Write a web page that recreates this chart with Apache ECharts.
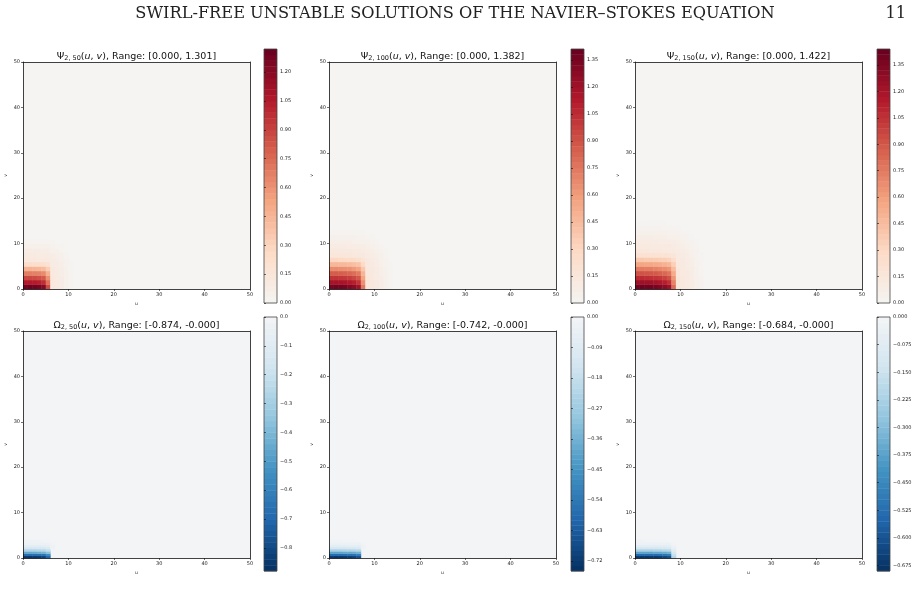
<!DOCTYPE html>
<html>
<head>
<meta charset="utf-8">
<script src="https://cdn.jsdelivr.net/npm/echarts@6/dist/echarts.min.js"></script>
<style>
  html, body { margin: 0; padding: 0; background: #fff; }
  #main { width: 920px; height: 606px; }
</style>
</head>
<body>
<div id="main"></div>
<script>
var pageTitle = 'SWIRL-FREE UNSTABLE SOLUTIONS OF THE NAVIER\u2013STOKES EQUATION';
var pageNumber = '11';

// stream function Psi_{2,n}: rows go up from v=0, one cell per unit of u and v
var psi50 = [
  [1.28, 1.30, 1.29, 1.27, 1.22, 0.86, 0.13, 0.11, 0.08, 0.05, 0.02],
  [1.06, 1.06, 1.05, 1.03, 0.98, 0.72, 0.13, 0.11, 0.08, 0.05, 0.02],
  [0.88, 0.88, 0.87, 0.85, 0.81, 0.60, 0.13, 0.10, 0.08, 0.05, 0.02],
  [0.68, 0.68, 0.67, 0.66, 0.63, 0.47, 0.12, 0.10, 0.07, 0.04, 0.02],
  [0.46, 0.46, 0.45, 0.44, 0.42, 0.33, 0.11, 0.09, 0.07, 0.04, 0.01],
  [0.24, 0.24, 0.23, 0.23, 0.22, 0.18, 0.10, 0.08, 0.06, 0.03, 0.01],
  [0.13, 0.13, 0.13, 0.12, 0.12, 0.11, 0.09, 0.07, 0.05, 0.03],
  [0.11, 0.11, 0.11, 0.10, 0.10, 0.09, 0.07, 0.06, 0.04, 0.02],
  [0.08, 0.08, 0.08, 0.08, 0.07, 0.07, 0.05, 0.04, 0.02],
  [0.05, 0.05, 0.05, 0.05, 0.05, 0.04, 0.03, 0.02, 0.01],
  [0.02, 0.02, 0.02, 0.02, 0.02, 0.02, 0.01]
];
var psi100 = [
  [1.36, 1.38, 1.37, 1.35, 1.32, 1.28, 1.20, 0.75, 0.15, 0.13, 0.11, 0.08, 0.05, 0.02],
  [1.18, 1.18, 1.17, 1.16, 1.13, 1.10, 1.02, 0.65, 0.15, 0.13, 0.11, 0.08, 0.05, 0.02],
  [1.02, 1.02, 1.01, 1.00, 0.98, 0.94, 0.88, 0.56, 0.15, 0.13, 0.10, 0.08, 0.05, 0.02],
  [0.86, 0.86, 0.85, 0.84, 0.82, 0.79, 0.74, 0.48, 0.14, 0.12, 0.10, 0.07, 0.04, 0.01],
  [0.67, 0.67, 0.66, 0.65, 0.64, 0.61, 0.57, 0.38, 0.14, 0.12, 0.10, 0.07, 0.04, 0.01],
  [0.47, 0.47, 0.46, 0.46, 0.45, 0.43, 0.40, 0.28, 0.13, 0.11, 0.09, 0.06, 0.03, 0.01],
  [0.29, 0.29, 0.28, 0.28, 0.27, 0.26, 0.24, 0.18, 0.12, 0.10, 0.08, 0.06, 0.03],
  [0.16, 0.16, 0.16, 0.15, 0.15, 0.14, 0.13, 0.12, 0.10, 0.09, 0.07, 0.05, 0.02],
  [0.13, 0.13, 0.12, 0.12, 0.12, 0.11, 0.11, 0.10, 0.09, 0.07, 0.05, 0.03, 0.01],
  [0.10, 0.10, 0.10, 0.10, 0.09, 0.09, 0.08, 0.08, 0.07, 0.05, 0.03, 0.02],
  [0.07, 0.07, 0.07, 0.07, 0.07, 0.06, 0.06, 0.05, 0.04, 0.03, 0.02],
  [0.04, 0.04, 0.04, 0.04, 0.04, 0.04, 0.03, 0.03, 0.02, 0.01],
  [0.02, 0.02, 0.02, 0.02, 0.02, 0.01, 0.01, 0.01]
];
var psi150 = [
  [1.40, 1.42, 1.41, 1.40, 1.38, 1.35, 1.31, 1.24, 0.82, 0.16, 0.14, 0.12, 0.09, 0.06, 0.03],
  [1.24, 1.24, 1.23, 1.22, 1.20, 1.17, 1.13, 1.06, 0.72, 0.16, 0.14, 0.12, 0.09, 0.06, 0.03],
  [1.08, 1.08, 1.07, 1.06, 1.04, 1.02, 0.98, 0.92, 0.63, 0.16, 0.14, 0.11, 0.09, 0.06, 0.03],
  [0.92, 0.92, 0.91, 0.90, 0.89, 0.86, 0.83, 0.78, 0.54, 0.15, 0.13, 0.11, 0.08, 0.05, 0.02],
  [0.75, 0.75, 0.74, 0.74, 0.72, 0.70, 0.68, 0.64, 0.45, 0.15, 0.13, 0.10, 0.08, 0.05, 0.02],
  [0.57, 0.57, 0.56, 0.56, 0.55, 0.53, 0.51, 0.48, 0.35, 0.14, 0.12, 0.10, 0.07, 0.04, 0.02],
  [0.39, 0.39, 0.38, 0.38, 0.37, 0.36, 0.35, 0.33, 0.25, 0.13, 0.11, 0.09, 0.07, 0.04, 0.01],
  [0.22, 0.22, 0.22, 0.21, 0.21, 0.20, 0.20, 0.19, 0.16, 0.12, 0.10, 0.08, 0.06, 0.03, 0.01],
  [0.15, 0.15, 0.15, 0.14, 0.14, 0.14, 0.13, 0.13, 0.12, 0.10, 0.09, 0.07, 0.05, 0.03],
  [0.13, 0.13, 0.12, 0.12, 0.12, 0.12, 0.11, 0.11, 0.10, 0.09, 0.07, 0.06, 0.04, 0.02],
  [0.10, 0.10, 0.10, 0.10, 0.10, 0.09, 0.09, 0.09, 0.08, 0.07, 0.06, 0.04, 0.03, 0.01],
  [0.08, 0.08, 0.08, 0.08, 0.07, 0.07, 0.07, 0.06, 0.06, 0.05, 0.04, 0.03, 0.01],
  [0.05, 0.05, 0.05, 0.05, 0.05, 0.05, 0.05, 0.04, 0.04, 0.03, 0.02, 0.01],
  [0.03, 0.03, 0.03, 0.03, 0.03, 0.03, 0.02, 0.02, 0.02, 0.01],
  [0.01, 0.01, 0.01, 0.01, 0.01, 0.01, 0.01]
];

// vorticity Omega_{2,n}: one unit of u by half a unit of v
var omega50 = [
  [-0.86, -0.87, -0.86, -0.85, -0.82, -0.70],
  [-0.68, -0.68, -0.67, -0.66, -0.64, -0.55],
  [-0.46, -0.46, -0.45, -0.44, -0.42, -0.36],
  [-0.27, -0.27, -0.27, -0.26, -0.25, -0.21],
  [-0.15, -0.15, -0.15, -0.14, -0.14, -0.12, -0.02],
  [-0.08, -0.08, -0.08, -0.08, -0.07, -0.06, -0.02],
  [-0.04, -0.04, -0.04, -0.04, -0.04, -0.03, -0.01],
  [-0.02, -0.02, -0.02, -0.02, -0.01, -0.01]
];
var omega100 = [
  [-0.73, -0.74, -0.74, -0.73, -0.72, -0.70, -0.66],
  [-0.58, -0.58, -0.58, -0.57, -0.56, -0.55, -0.52],
  [-0.40, -0.40, -0.40, -0.39, -0.39, -0.38, -0.36],
  [-0.24, -0.24, -0.24, -0.23, -0.23, -0.22, -0.21],
  [-0.13, -0.13, -0.13, -0.13, -0.12, -0.12, -0.11, -0.02],
  [-0.07, -0.07, -0.07, -0.07, -0.06, -0.06, -0.06, -0.02],
  [-0.035, -0.035, -0.035, -0.03, -0.03, -0.03, -0.03, -0.01],
  [-0.015, -0.015, -0.015, -0.01, -0.01, -0.01]
];
var omega150 = [
  [-0.67, -0.68, -0.68, -0.67, -0.67, -0.66, -0.64, -0.61, -0.20],
  [-0.54, -0.54, -0.54, -0.53, -0.53, -0.52, -0.50, -0.48, -0.16],
  [-0.37, -0.37, -0.37, -0.37, -0.36, -0.36, -0.35, -0.33, -0.11],
  [-0.22, -0.22, -0.22, -0.22, -0.21, -0.21, -0.20, -0.19, -0.07],
  [-0.12, -0.12, -0.12, -0.12, -0.12, -0.11, -0.11, -0.10, -0.04],
  [-0.065, -0.065, -0.065, -0.06, -0.06, -0.06, -0.06, -0.055, -0.02],
  [-0.03, -0.03, -0.03, -0.03, -0.03, -0.03, -0.03, -0.025, -0.01],
  [-0.015, -0.015, -0.01, -0.01, -0.01, -0.01, -0.01]
];

// data range printed in each title
var psiRange50 = [0.000, 1.301];
var psiRange100 = [0.000, 1.382];
var psiRange150 = [0.000, 1.422];
var omegaRange50 = [-0.874, -0.0];
var omegaRange100 = [-0.742, -0.0];
var omegaRange150 = [-0.684, -0.0];

// contour levels of each colorbar: [lowest, highest, step]
var psiLevels50 = [0, 1.32, 0.03];
var psiLevels100 = [0, 1.41, 0.03];
var psiLevels150 = [0, 1.44, 0.03];
var omegaLevels50 = [-0.88, 0, 0.02];
var omegaLevels100 = [-0.75, 0, 0.015];
var omegaLevels150 = [-0.69, 0, 0.015];

// colorbar tick labels
var psiTicks50 = [0, 0.15, 0.30, 0.45, 0.60, 0.75, 0.90, 1.05, 1.20];
var psiTicks100 = [0, 0.15, 0.30, 0.45, 0.60, 0.75, 0.90, 1.05, 1.20, 1.35];
var psiTicks150 = [0, 0.15, 0.30, 0.45, 0.60, 0.75, 0.90, 1.05, 1.20, 1.35];
var omegaTicks50 = [0, -0.1, -0.2, -0.3, -0.4, -0.5, -0.6, -0.7, -0.8];
var omegaTicks100 = [0, -0.09, -0.18, -0.27, -0.36, -0.45, -0.54, -0.63, -0.72];
var omegaTicks150 = [0, -0.075, -0.150, -0.225, -0.300, -0.375, -0.450, -0.525, -0.600, -0.675];

var reds = ['#f5f4f2', '#fddbc7', '#f4a582', '#d6604d', '#b2182b', '#67001f'];
var blues = ['#053061', '#2166ac', '#4393c3', '#92c5de', '#d1e5f0', '#f3f4f6'];

var panels = [
  {sym: '\u03a8', n: '50', field: psi50, range: psiRange50, levels: psiLevels50, ticks: psiTicks50, digits: 2, dv: 1, colors: reds, bg: reds[0]},
  {sym: '\u03a8', n: '100', field: psi100, range: psiRange100, levels: psiLevels100, ticks: psiTicks100, digits: 2, dv: 1, colors: reds, bg: reds[0]},
  {sym: '\u03a8', n: '150', field: psi150, range: psiRange150, levels: psiLevels150, ticks: psiTicks150, digits: 2, dv: 1, colors: reds, bg: reds[0]},
  {sym: '\u03a9', n: '50', field: omega50, range: omegaRange50, levels: omegaLevels50, ticks: omegaTicks50, digits: 1, dv: 0.5, colors: blues, bg: blues[5]},
  {sym: '\u03a9', n: '100', field: omega100, range: omegaRange100, levels: omegaLevels100, ticks: omegaTicks100, digits: 2, dv: 0.5, colors: blues, bg: blues[5]},
  {sym: '\u03a9', n: '150', field: omega150, range: omegaRange150, levels: omegaLevels150, ticks: omegaTicks150, digits: 3, dv: 0.5, colors: blues, bg: blues[5]}
];

var colLeft = [23, 329, 635], rowTop = [62, 331];
var plotW = 227, plotH = 227;
var cbLeft = [264, 571, 877], cbTop = [49, 317];
var cbW = 13, cbH = 254;
var font = 'DejaVu Sans';

function fmt3(x) {
  var neg = x < 0 || Object.is(x, -0);
  return (neg ? '-' : '') + Math.abs(x).toFixed(3);
}

function cellRenderer(du, dv) {
  return function (params, api) {
    var u = api.value(0), v = api.value(1);
    var a = api.coord([u, v + dv]);
    var b = api.coord([u + du, v]);
    return {
      type: 'rect',
      shape: {x: a[0], y: a[1], width: b[0] - a[0] + 0.4, height: b[1] - a[1] + 0.4},
      style: {fill: api.visual('color')}
    };
  };
}

function bandRenderer(params, api) {
  var a = api.coord([0, api.value(3)]);
  var b = api.coord([1, api.value(1)]);
  return {
    type: 'rect',
    shape: {x: a[0], y: a[1], width: b[0] - a[0], height: b[1] - a[1] + 0.4},
    style: {fill: api.visual('color')}
  };
}

var lineStyle = {color: '#111', width: 0.8};
var grids = [], xAxes = [], yAxes = [], series = [], visualMaps = [], titles = [];

panels.forEach(function (p, i) {
  var col = i % 3, row = Math.floor(i / 3);

  // main plot
  var gi = grids.length;
  grids.push({left: colLeft[col], top: rowTop[row], width: plotW, height: plotH,
    show: true, backgroundColor: p.bg, borderWidth: 0});
  var xi = xAxes.length, yi = yAxes.length;
  xAxes.push({
    gridIndex: gi, type: 'value', min: 0, max: 50, interval: 10, position: 'bottom', z: 10,
    axisLine: {onZero: false, lineStyle: lineStyle},
    axisTick: {length: 2, lineStyle: {color: '#111', width: 0.6}},
    axisLabel: {fontSize: 5, color: '#222', margin: 3, fontFamily: font},
    splitLine: {show: false},
    name: 'u', nameLocation: 'middle', nameGap: 12,
    nameTextStyle: {fontSize: 4.5, color: '#222', fontFamily: font}
  });
  xAxes.push({
    gridIndex: gi, type: 'value', min: 0, max: 50, position: 'top', z: 10,
    axisLine: {onZero: false, lineStyle: lineStyle},
    axisTick: {show: false}, axisLabel: {show: false}, splitLine: {show: false}
  });
  yAxes.push({
    gridIndex: gi, type: 'value', min: 0, max: 50, interval: 10, position: 'left', z: 10,
    axisLine: {onZero: false, lineStyle: lineStyle},
    axisTick: {length: 2, lineStyle: {color: '#111', width: 0.6}},
    axisLabel: {fontSize: 5, color: '#222', margin: 3, fontFamily: font},
    splitLine: {show: false},
    name: 'v', nameLocation: 'middle', nameGap: 15,
    nameTextStyle: {fontSize: 4.5, color: '#222', fontFamily: font}
  });
  yAxes.push({
    gridIndex: gi, type: 'value', min: 0, max: 50, position: 'right', z: 10,
    axisLine: {onZero: false, lineStyle: lineStyle},
    axisTick: {show: false}, axisLabel: {show: false}, splitLine: {show: false}
  });

  var cells = [];
  p.field.forEach(function (vals, r) {
    vals.forEach(function (val, c) {
      cells.push([c, r * p.dv, val]);
    });
  });
  var si = series.length;
  series.push({
    type: 'custom', xAxisIndex: xi, yAxisIndex: yi, silent: true, animation: false,
    dimensions: ['u', 'v', 'val'], encode: {x: 0, y: 1},
    renderItem: cellRenderer(1, p.dv), data: cells
  });

  // colorbar, one band per contour level
  var lvLo = p.levels[0], lvHi = p.levels[1], step = p.levels[2];
  var cg = grids.length;
  grids.push({left: cbLeft[col], top: cbTop[row], width: cbW, height: cbH,
    show: true, backgroundColor: 'transparent', borderColor: '#444', borderWidth: 0.8, z: 10});
  var cx = xAxes.length, cy = yAxes.length;
  xAxes.push({gridIndex: cg, type: 'value', min: 0, max: 1, show: false});
  yAxes.push({
    gridIndex: cg, type: 'value', min: lvLo, max: lvHi, position: 'right', z: 10,
    axisLine: {show: false},
    axisTick: {show: true, length: 2, customValues: p.ticks, lineStyle: {color: '#111', width: 0.6}},
    axisLabel: {
      fontSize: 5, color: '#222', margin: 3, fontFamily: font, customValues: p.ticks,
      formatter: (function (d) {
        return function (v) {
          if (Math.abs(v) < 1e-9) return (0).toFixed(d);
          return (v < 0 ? '\u2212' : '') + Math.abs(v).toFixed(d);
        };
      })(p.digits)
    },
    splitLine: {show: false}
  });
  var bands = [];
  var nb = Math.round((lvHi - lvLo) / step);
  for (var k = 0; k < nb; k++) {
    var lo = lvLo + step * k, hi = lvLo + step * (k + 1);
    bands.push([0, lo, (lo + hi) / 2, hi]);
  }
  var bi = series.length;
  series.push({
    type: 'custom', xAxisIndex: cx, yAxisIndex: cy, silent: true, animation: false,
    dimensions: ['x', 'lo', 'val', 'hi'], encode: {x: 0, y: [1, 3]},
    renderItem: bandRenderer, data: bands
  });

  visualMaps.push({
    type: 'continuous', show: false, seriesIndex: [si, bi], dimension: 2,
    min: lvLo, max: lvHi, inRange: {color: p.colors}
  });

  titles.push({
    left: colLeft[col] + plotW / 2, top: rowTop[row] - 11, textAlign: 'center', padding: 0,
    text: '{t|' + p.sym + '}{s|2, ' + p.n + '}{t|(}{i|u}{t|, }{i|v}{t|), Range: [' +
      fmt3(p.range[0]) + ', ' + fmt3(p.range[1]) + ']}',
    textStyle: {
      fontWeight: 'normal',
      rich: {
        t: {fontSize: 9.5, fontFamily: font, fontWeight: 'normal', color: '#111'},
        i: {fontSize: 9.5, fontFamily: font, fontWeight: 'normal', fontStyle: 'italic', color: '#111'},
        s: {fontSize: 6.5, fontFamily: font, fontWeight: 'normal', color: '#111',
          verticalAlign: 'bottom', padding: [4, 0, 0, 0]}
      }
    }
  });
});

var option = {
  backgroundColor: '#fff',
  animation: false,
  title: titles,
  grid: grids,
  xAxis: xAxes,
  yAxis: yAxes,
  visualMap: visualMaps,
  series: series,
  graphic: [
    {type: 'text', x: 455, y: 6, style: {text: pageTitle, fill: '#222', align: 'center',
      font: '16.2px "DejaVu Serif"'}},
    {type: 'text', x: 906, y: 6, style: {text: pageNumber, fill: '#222', align: 'right',
      font: '16.2px "DejaVu Serif"'}}
  ]
};

var chart = echarts.init(document.getElementById('main'));
chart.setOption(option);
</script>
</body>
</html>
